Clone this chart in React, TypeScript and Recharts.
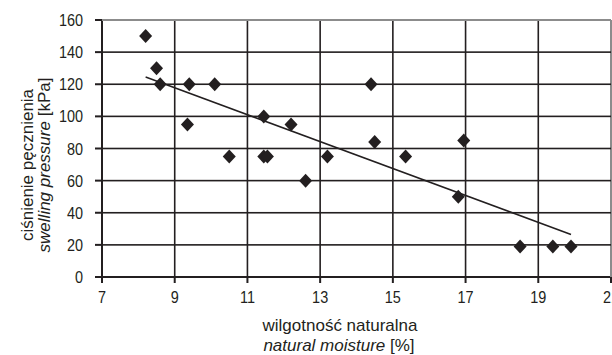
import React from 'react';
import { ScatterChart, Scatter, XAxis, YAxis, ReferenceLine, Label } from 'recharts';

const moisture = [8.2, 8.5, 8.6, 9.35, 9.4, 10.1, 10.5, 11.45, 11.45, 11.55, 12.2, 12.6, 13.2, 14.4, 14.5, 15.35, 16.8, 16.95, 18.5, 19.4, 19.9];
const pressure = [150, 130, 120, 95, 120, 120, 75, 100, 75, 75, 95, 60, 75, 120, 84, 75, 50, 85, 19, 19, 19];
const trendX = [8.2, 19.9];
const trendY = [124.5, 26.5];
const xTicks = [7, 9, 11, 13, 15, 17, 19, 21];
const yTicks = [0, 20, 40, 60, 80, 100, 120, 140, 160];

const data = moisture.map((x, i) => ({ x, y: pressure[i] }));

const FONT = "'Liberation Sans', Arial, sans-serif";
const INK = '#231f20';
const FRAME = '#8c8c8c';
const SX = 0.85;
const X_MIN = xTicks[0];
const X_MAX = xTicks[xTicks.length - 1];
const Y_MIN = yTicks[0];
const Y_MAX = yTicks[yTicks.length - 1];

const W = 612;
const H = 355;
const MARGIN = { top: 20, right: 1, bottom: 0, left: 42 };
const Y_AXIS_W = 60;
const X_AXIS_H = 78;
const PLOT_LEFT = MARGIN.left + Y_AXIS_W;
const PLOT_RIGHT = W - MARGIN.right;
const PLOT_TOP = MARGIN.top;
const PLOT_BOTTOM = H - MARGIN.bottom - X_AXIS_H;

const Diamond = (props: any) => {
  const { cx, cy } = props;
  if (cx == null || cy == null) return null;
  const w = 6.5, h = 7;
  return <polygon points={`${cx},${cy - h} ${cx + w},${cy} ${cx},${cy + h} ${cx - w},${cy}`} fill={INK} />;
};

const XTick = (props: any) => {
  const { x, y, payload } = props;
  const v = payload.value;
  const edge = v === X_MAX;
  const t = edge ? 2 : 1.6;
  return (
    <g>
      {v !== X_MIN && (
        <rect x={x - t / 2} y={PLOT_TOP} width={t} height={PLOT_BOTTOM - PLOT_TOP}
          fill={edge ? FRAME : INK} stroke="none" />
      )}
      <text transform={`translate(${x}, ${y}) scale(${SX}, 1)`} textAnchor="middle" dy="0.71em"
        fontFamily={FONT} fontSize={17} fill={INK}>{v}</text>
    </g>
  );
};

const YTick = (props: any) => {
  const { x, y, payload } = props;
  const v = payload.value;
  const edge = v === Y_MAX;
  const t = edge ? 2 : 1.6;
  return (
    <g>
      {v !== Y_MIN && (
        <rect x={PLOT_LEFT} y={y - t / 2} width={PLOT_RIGHT - PLOT_LEFT} height={t}
          fill={edge ? FRAME : INK} stroke="none" />
      )}
      <text transform={`translate(${x}, ${y}) scale(${SX}, 1)`} textAnchor="end" dy="0.355em"
        fontFamily={FONT} fontSize={17} fill={INK}>{v}</text>
    </g>
  );
};

const YTitle = () => {
  const cy = 165;
  return (
    <g fontFamily={FONT} fontSize={17} fill={INK}>
      <text transform={`translate(33, ${cy}) rotate(-90)`} textAnchor="middle">ciśnienie pęcznienia</text>
      <text transform={`translate(50, ${cy}) rotate(-90)`} textAnchor="middle">
        <tspan fontStyle="italic">swelling pressure</tspan> [kPa]
      </text>
    </g>
  );
};

const XTitle = () => {
  return (
    <g fontFamily={FONT} fontSize={17} fill={INK}>
      <text transform="translate(340, 331)" textAnchor="middle">wilgotność naturalna</text>
      <text transform="translate(339, 351)" textAnchor="middle">
        <tspan fontStyle="italic">natural moisture</tspan> [%]
      </text>
    </g>
  );
};

export default function App() {
  return (
    <div style={{ position: 'absolute', left: 0, top: 0, width: W, height: H, background: '#fff' }}>
      <ScatterChart width={W} height={H} margin={MARGIN}>
        <XAxis
          type="number"
          dataKey="x"
          domain={[X_MIN, X_MAX]}
          ticks={xTicks}
          interval={0}
          height={X_AXIS_H}
          axisLine={{ stroke: INK, strokeWidth: 2 }}
          tickLine={{ stroke: INK, strokeWidth: 2 }}
          tickSize={6}
          tickMargin={8}
          tick={<XTick />}
        >
          <Label content={<XTitle />} />
        </XAxis>
        <YAxis
          type="number"
          dataKey="y"
          domain={[Y_MIN, Y_MAX]}
          ticks={yTicks}
          interval={0}
          width={Y_AXIS_W}
          axisLine={{ stroke: INK, strokeWidth: 2 }}
          tickLine={{ stroke: INK, strokeWidth: 2 }}
          tickSize={7}
          tickMargin={12}
          tick={<YTick />}
        >
          <Label content={<YTitle />} />
        </YAxis>
        <ReferenceLine
          ifOverflow="visible"
          segment={[{ x: trendX[0], y: trendY[0] }, { x: trendX[1], y: trendY[1] }]}
          stroke={INK}
          strokeWidth={1.5}
        />
        <Scatter data={data} shape={Diamond} isAnimationActive={false} />
      </ScatterChart>
    </div>
  );
}
